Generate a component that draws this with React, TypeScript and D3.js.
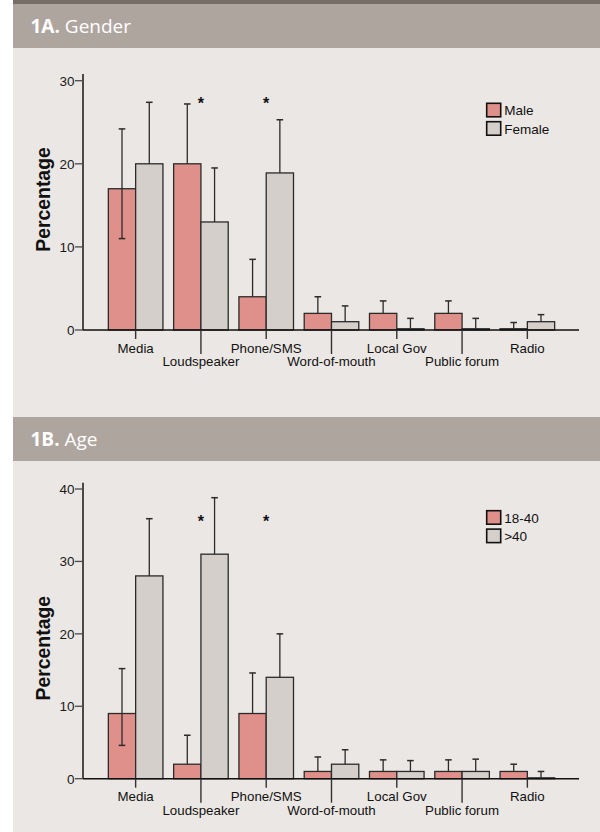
import React from "react";
import * as d3 from "d3";

const categories = ["Media", "Loudspeaker", "Phone/SMS", "Word-of-mouth", "Local Gov", "Public forum", "Radio"];

// Panel A: Gender
const genderSeries = ["Male", "Female"];
const maleValues = [17, 20, 4, 2, 2, 2, 0.15];
const maleUpper = [24.2, 27.2, 8.5, 4, 3.5, 3.5, 0.9];
const maleLower: (number | null)[] = [11, null, null, null, null, null, null];
const femaleValues = [20, 13, 18.9, 1, 0.15, 0.15, 1];
const femaleUpper = [27.4, 19.5, 25.3, 2.9, 1.4, 1.4, 1.85];
const femaleLower: (number | null)[] = [null, null, null, null, null, null, null];
const genderTicks = [0, 10, 20, 30];
const genderSignificant = ["Loudspeaker", "Phone/SMS"];
const genderStarLevel = 27.7;

// Panel B: Age
const ageSeries = ["18-40", ">40"];
const youngValues = [9, 2, 9, 1, 1, 1, 1];
const youngUpper = [15.2, 6, 14.6, 3, 2.6, 2.6, 2];
const youngLower: (number | null)[] = [4.6, null, null, null, null, null, null];
const oldValues = [28, 31, 14, 2, 1, 1, 0.12];
const oldUpper = [35.9, 38.8, 20, 4, 2.5, 2.7, 1];
const oldLower: (number | null)[] = [null, null, null, null, null, null, null];
const ageTicks = [0, 10, 20, 30, 40];
const ageSignificant = ["Loudspeaker", "Phone/SMS"];
const ageStarLevel = 36;

const COL_BG = "#ebe7e4";
const COL_HEAD = "#afa59f";
const COL_TOP = "#776d66";
const COL_A = "#e0908a";
const COL_B = "#d4cfca";
const STROKE = "#2b2b2b";
const FONT = "'Liberation Sans', Arial, sans-serif";

type PanelProps = {
  headTop: number;
  headBold: string;
  headText: string;
  zeroY: number;
  topValY: number;
  yMax: number;
  axisTop: number;
  ticks: number[];
  series: string[];
  valsA: number[];
  upA: number[];
  loA: (number | null)[];
  valsB: number[];
  upB: number[];
  loB: (number | null)[];
  significant: string[];
  starLevel: number;
  legendTop: number;
};

function Panel(p: PanelProps) {
  const x = d3.scaleBand<string>().domain(categories).range([103, 560]).padding(0);
  const bw = x.bandwidth();
  const barW = bw * 0.418;
  const y = d3.scaleLinear().domain([0, p.yMax]).range([p.zeroY, p.topValY]);
  const axisX = 83;

  const bars = (vals: number[], up: number[], lo: (number | null)[], side: number, fill: string) =>
    categories.map((c, i) => {
      const cx = (x(c) as number) + bw / 2;
      const left = side === 0 ? cx - barW : cx;
      const ecx = left + barW / 2;
      const top = y(vals[i]);
      const errTop = y(up[i]);
      const errBot = lo[i] != null ? y(lo[i] as number) : top;
      return (
        <g key={c + side}>
          <rect x={left} y={top} width={barW} height={p.zeroY - top} fill={fill} stroke={STROKE} strokeWidth={1.3} />
          <line x1={ecx} x2={ecx} y1={errBot} y2={errTop} stroke={STROKE} strokeWidth={1.3} />
          <line x1={ecx - 3.3} x2={ecx + 3.3} y1={errTop} y2={errTop} stroke={STROKE} strokeWidth={1.5} />
          {lo[i] != null && (
            <line x1={ecx - 3.3} x2={ecx + 3.3} y1={errBot} y2={errBot} stroke={STROKE} strokeWidth={1.5} />
          )}
        </g>
      );
    });

  return (
    <g>
      <rect x={13} y={p.headTop} width={587} height={44} fill={COL_HEAD} />
      <text x={30.5} y={p.headTop + 29.3} fill="#ffffff" fontFamily="'Open Sans', 'Noto Sans', sans-serif" fontSize={19}>
        <tspan fontWeight={700}>{p.headBold}</tspan>
        <tspan> {p.headText}</tspan>
      </text>

      {/* y axis */}
      <line x1={axisX} x2={axisX} y1={p.axisTop} y2={p.zeroY} stroke="#4a4a4a" strokeWidth={2} />
      {p.ticks.map((t) => (
        <g key={t}>
          <line x1={axisX - 8} x2={axisX} y1={y(t)} y2={y(t)} stroke="#4a4a4a" strokeWidth={1.3} />
          <text x={axisX - 8.5} y={y(t)} dy="0.36em" textAnchor="end" fontFamily={FONT} fontSize={13.5} fill="#1a1a1a">
            {t}
          </text>
        </g>
      ))}
      <text
        transform={`translate(43,${p.zeroY - 130.5}) rotate(-90)`}
        textAnchor="middle"
        dy="0.35em"
        fontFamily={FONT}
        fontWeight={700}
        fontSize={19.4}
        fill="#111"
      >
        Percentage
      </text>

      {bars(p.valsA, p.upA, p.loA, 0, COL_A)}
      {bars(p.valsB, p.upB, p.loB, 1, COL_B)}

      {/* x axis */}
      <line x1={axisX} x2={579} y1={p.zeroY} y2={p.zeroY} stroke="#111" strokeWidth={1.4} />
      {categories.map((c, i) => {
        const cx = (x(c) as number) + bw / 2;
        const odd = i % 2 === 1;
        return (
          <g key={"t" + c}>
            <line x1={cx} x2={cx} y1={p.zeroY} y2={p.zeroY + (odd ? 24 : 9)} stroke="#333" strokeWidth={1.4} />
            <text x={cx} y={p.zeroY + (odd ? 36.3 : 22.7)} textAnchor="middle" fontFamily={FONT} fontSize={13.3} fill="#111">
              {c}
            </text>
          </g>
        );
      })}

      {p.significant.map((c) => {
        const cx = (x(c) as number) + bw / 2;
        return (
          <text key={"s" + c} x={cx} y={y(p.starLevel) + 9} textAnchor="middle" fontFamily={FONT} fontWeight={700} fontSize={16} fill="#111">
            *
          </text>
        );
      })}

      {/* legend */}
      {p.series.map((s, i) => (
        <g key={s} transform={`translate(486.7,${p.legendTop + i * 18.4})`}>
          <rect x={0} y={0} width={14} height={13.5} fill={i === 0 ? COL_A : COL_B} stroke="#111" strokeWidth={1.6} />
          <text x={17.5} y={7} dy="0.36em" fontFamily={FONT} fontSize={13.5} fill="#111">
            {s}
          </text>
        </g>
      ))}
    </g>
  );
}

export default function App() {
  return (
    <div style={{ position: "absolute", left: 0, top: 0 }}>
      <svg width={600} height={832} style={{ display: "block" }}>
        <rect x={0} y={0} width={600} height={832} fill="#ffffff" />
        <rect x={13} y={0} width={587} height={832} fill={COL_BG} />
        <rect x={13} y={0} width={587} height={4} fill={COL_TOP} />
        <Panel
          headTop={4}
          headBold="1A."
          headText="Gender"
          zeroY={330}
          topValY={80.7}
          yMax={30}
          axisTop={74}
          ticks={genderTicks}
          series={genderSeries}
          valsA={maleValues}
          upA={maleUpper}
          loA={maleLower}
          valsB={femaleValues}
          upB={femaleUpper}
          loB={femaleLower}
          significant={genderSignificant}
          starLevel={genderStarLevel}
          legendTop={103.3}
        />
        <Panel
          headTop={417}
          headBold="1B."
          headText="Age"
          zeroY={778.7}
          topValY={489}
          yMax={40}
          axisTop={482.7}
          ticks={ageTicks}
          series={ageSeries}
          valsA={youngValues}
          upA={youngUpper}
          loA={youngLower}
          valsB={oldValues}
          upB={oldUpper}
          loB={oldLower}
          significant={ageSignificant}
          starLevel={ageStarLevel}
          legendTop={510.7}
        />
      </svg>
    </div>
  );
}
